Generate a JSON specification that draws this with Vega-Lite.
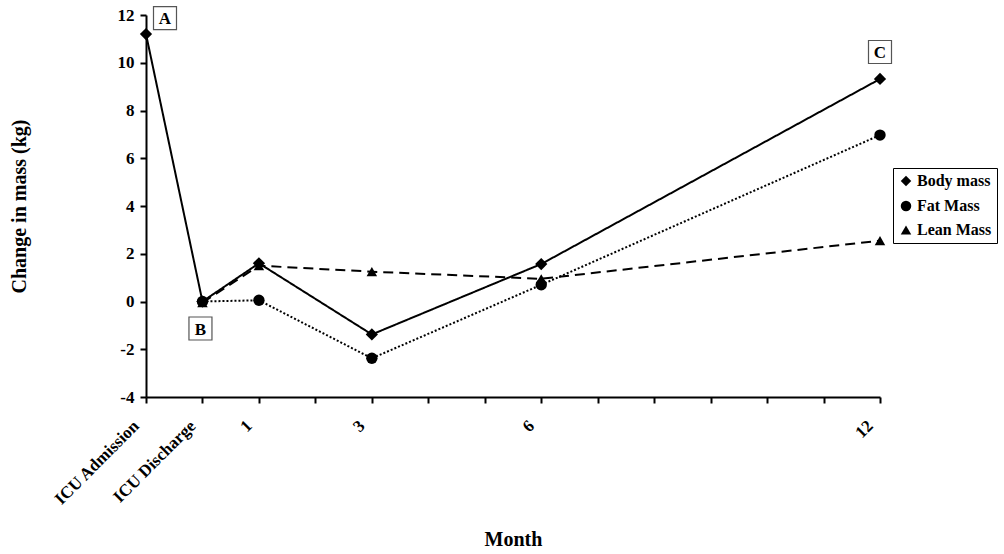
{
  "$schema": "https://vega.github.io/schema/vega-lite/v6.json",
  "autosize": "none",
  "width": 734,
  "height": 382,
  "padding": {"left": 146, "top": 15, "right": 124, "bottom": 157},
  "background": "white",
  "config": {
    "view": {"stroke": null},
    "font": "Liberation Serif",
    "axis": {
      "grid": false,
      "domainColor": "black",
      "domainWidth": 2,
      "tickColor": "black",
      "tickWidth": 2,
      "tickSize": 6,
      "labelFont": "Liberation Serif",
      "labelFontWeight": "bold",
      "labelFontSize": 17,
      "labelColor": "black",
      "titleFont": "Liberation Serif",
      "titleFontWeight": "bold",
      "titleFontSize": 20,
      "titleColor": "black"
    }
  },
  "datasets": {
    "series": [
      {"series": "Body mass", "month": -1, "value": 11.2},
      {"series": "Body mass", "month": 0, "value": 0},
      {"series": "Body mass", "month": 1, "value": 1.6},
      {"series": "Body mass", "month": 3, "value": -1.38},
      {"series": "Body mass", "month": 6, "value": 1.57},
      {"series": "Body mass", "month": 12, "value": 9.32},
      {"series": "Fat Mass", "month": 0, "value": 0},
      {"series": "Fat Mass", "month": 1, "value": 0.05},
      {"series": "Fat Mass", "month": 3, "value": -2.38},
      {"series": "Fat Mass", "month": 6, "value": 0.7},
      {"series": "Fat Mass", "month": 12, "value": 6.97},
      {"series": "Lean Mass", "month": 0, "value": -0.05},
      {"series": "Lean Mass", "month": 1, "value": 1.5},
      {"series": "Lean Mass", "month": 3, "value": 1.25},
      {"series": "Lean Mass", "month": 6, "value": 0.95},
      {"series": "Lean Mass", "month": 12, "value": 2.55}
    ],
    "notes": [
      {"label": "A", "month": -1, "value": 11.2},
      {"label": "B", "month": 0, "value": 0},
      {"label": "C", "month": 12, "value": 9.32}
    ]
  },
  "encoding": {
    "x": {
      "field": "month", "type": "quantitative",
      "scale": {"domain": [-1, 12], "nice": false, "zero": false},
      "axis": {
        "title": "Month",
        "values": [-1, 0, 1, 2, 3, 4, 5, 6, 7, 8, 9, 10, 11, 12],
        "labelExpr": "datum.value == -1 ? 'ICU Admission' : datum.value == 0 ? 'ICU Discharge' : (datum.value == 1 || datum.value == 3 || datum.value == 6 || datum.value == 12) ? datum.label : ''",
        "labelAngle": -45,
        "labelAlign": "right",
        "labelBaseline": "middle",
        "labelPadding": 20,
        "labelOffset": -10,
        "labelOverlap": false,
        "titlePadding": 22
      }
    },
    "y": {
      "field": "value", "type": "quantitative",
      "scale": {"domain": [-4, 12], "nice": false, "zero": false},
      "axis": {
        "title": "Change in mass (kg)",
        "values": [-4, -2, 0, 2, 4, 6, 8, 10, 12],
        "labelExpr": "'' + datum.value",
        "labelPadding": 6,
        "titlePadding": 88
      }
    }
  },
  "resolve": {"legend": {"shape": "independent", "strokeDash": "independent"}},
  "layer": [
    {
      "data": {"name": "series"},
      "mark": {"type": "line", "color": "black", "strokeWidth": 2},
      "encoding": {
        "detail": {"field": "series"},
        "strokeDash": {
          "field": "series", "type": "nominal",
          "scale": {"domain": ["Body mass", "Fat Mass", "Lean Mass"], "range": [[1, 0], [2, 2], [10, 6]]},
          "legend": null
        }
      }
    },
    {
      "data": {"name": "series"},
      "mark": {"type": "point", "filled": true, "color": "black", "opacity": 1},
      "encoding": {
        "size": {
          "field": "series", "type": "nominal",
          "scale": {"domain": ["Body mass", "Fat Mass", "Lean Mass"], "range": [150, 110, 130]},
          "legend": null
        },
        "shape": {
          "field": "series", "type": "nominal",
          "scale": {"domain": ["Body mass", "Fat Mass", "Lean Mass"], "range": ["diamond", "circle", "triangle-up"]},
          "legend": {
            "title": null,
            "orient": "none",
            "legendX": 747,
            "legendY": 153,
            "strokeColor": "black",
            "padding": 5,
            "fillColor": "white",
            "labelFont": "Liberation Serif",
            "labelFontWeight": "bold",
            "labelFontSize": 16,
            "labelColor": "black",
            "symbolFillColor": "black",
            "symbolStrokeColor": "black",
            "symbolSize": 110,
            "rowPadding": 7,
            "labelOffset": 3
          }
        }
      }
    },
    {
      "data": {"name": "notes"},
      "transform": [{"filter": "datum.label == 'A'"}],
      "layer": [
        {"mark": {"type": "point", "shape": "square", "size": 529, "filled": true, "fill": "white", "stroke": "#555", "strokeWidth": 1.2, "opacity": 1, "xOffset": 19, "yOffset": -16}},
        {"mark": {"type": "text", "font": "Liberation Serif", "fontWeight": "bold", "fontSize": 17, "color": "black", "xOffset": 19, "yOffset": -15}, "encoding": {"text": {"field": "label"}}}
      ]
    },
    {
      "data": {"name": "notes"},
      "transform": [{"filter": "datum.label == 'B'"}],
      "layer": [
        {"mark": {"type": "point", "shape": "square", "size": 529, "filled": true, "fill": "white", "stroke": "#555", "strokeWidth": 1.2, "opacity": 1, "xOffset": -2, "yOffset": 27}},
        {"mark": {"type": "text", "font": "Liberation Serif", "fontWeight": "bold", "fontSize": 17, "color": "black", "xOffset": -2, "yOffset": 28}, "encoding": {"text": {"field": "label"}}}
      ]
    },
    {
      "data": {"name": "notes"},
      "transform": [{"filter": "datum.label == 'C'"}],
      "layer": [
        {"mark": {"type": "point", "shape": "square", "size": 529, "filled": true, "fill": "white", "stroke": "#555", "strokeWidth": 1.2, "opacity": 1, "xOffset": 0, "yOffset": -27}},
        {"mark": {"type": "text", "font": "Liberation Serif", "fontWeight": "bold", "fontSize": 17, "color": "black", "xOffset": 0, "yOffset": -26}, "encoding": {"text": {"field": "label"}}}
      ]
    }
  ]
}
